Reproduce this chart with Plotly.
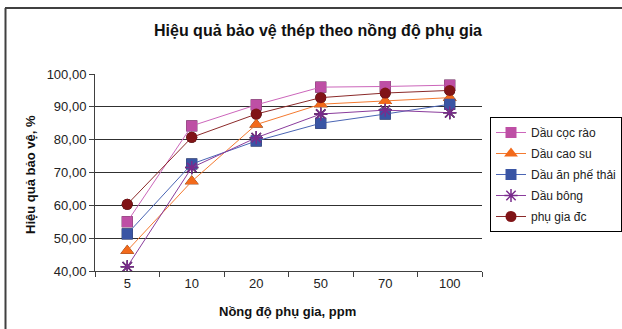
import plotly.graph_objects as go

categories = ["5", "10", "20", "50", "70", "100"]
series_names = ["Dầu cọc rào", "Dầu cao su", "Dầu ăn phế thải", "Dầu bông", "phụ gia đc"]
coc_rao = [55.0, 84.2, 90.6, 96.0, 96.2, 96.6]
cao_su = [46.2, 67.3, 84.6, 90.8, 91.8, 92.8]
an_phe_thai = [51.3, 72.6, 79.6, 85.0, 87.8, 90.8]
bong = [41.3, 71.5, 80.6, 87.8, 89.0, 88.2]
phu_gia_dc = [60.3, 80.7, 87.8, 92.8, 94.2, 95.0]
values = [coc_rao, cao_su, an_phe_thai, bong, phu_gia_dc]

marker_colors = ["#BE4FA5", "#F26A1B", "#3A55A4", "#7A2B8C", "#801417"]
line_colors = ["#CC66BB", "#F47A30", "#4A65B4", "#8A3C9C", "#8B2A2A"]
symbols = ["square", "triangle-up", "square", "asterisk-open", "circle"]
sizes = [11, 12, 11, 11, 11]

W, H = 622, 329
L, R, T, B = 93, 140, 72, 58
PW = W - L - R
PH = H - T - B
dx, dy = 2, 2

def px(x):
    return (x - L) / PW

def py(y):
    return (H - B - y) / PH

fig = go.Figure()

# shadows on base axes (x/y), offset down-right
for vals, sym, sz in zip(values, symbols, sizes):
    fig.add_trace(go.Scatter(
        x=categories, y=vals, mode="markers", xaxis="x", yaxis="y",
        marker=dict(symbol=sym, size=sz, color="black",
                    line=dict(color="black", width=1.5 if "asterisk" in sym else 0)),
        showlegend=False, hoverinfo="skip"))

# main series on overlay axes (x2/y2) which carry the visible grid/ticks
for i, (name, vals, mc, lc, sym, sz) in enumerate(zip(series_names, values, marker_colors, line_colors, symbols, sizes)):
    fig.add_trace(go.Scatter(
        x=categories, y=vals, mode="lines+markers", name=name, xaxis="x2", yaxis="y2",
        legendgroup=f"g{i}",
        line=dict(color=lc, width=1),
        marker=dict(symbol=sym, size=sz, color=mc,
                    line=dict(color=mc, width=1.5 if "asterisk" in sym else 0))))

main_x_dom = [0, (PW - dx) / PW]
main_y_dom = [dy / PH, 1]
sh_x_dom = [dx / PW, 1]
sh_y_dom = [0, (PH - dy) / PH]

xcommon = dict(type="category", categoryorder="array", categoryarray=categories, range=[-0.5, 5.5])
ycommon = dict(range=[40, 100])

fig.update_layout(
    width=W, height=H,
    margin=dict(l=L, r=R, t=T, b=B, pad=0, autoexpand=False),
    paper_bgcolor="white", plot_bgcolor="white",
    font=dict(family="Liberation Sans, Arial, sans-serif", size=13, color="#222"),
    separators=",.",
    xaxis=dict(**xcommon, domain=sh_x_dom, anchor="y", showgrid=False, showline=False,
               showticklabels=False, ticks="", zeroline=False, automargin=False),
    yaxis=dict(**ycommon, domain=sh_y_dom, anchor="x", showgrid=False, showline=False,
               showticklabels=False, ticks="", zeroline=False, automargin=False),
    xaxis2=dict(**xcommon, domain=main_x_dom, anchor="y2", overlaying="x", showgrid=False,
                showline=True, linecolor="#404040", linewidth=1,
                ticks="outside", tickson="boundaries", ticklen=5, tickcolor="#404040",
                tickfont=dict(size=13, color="#222"), zeroline=False, automargin=False),
    yaxis2=dict(**ycommon, domain=main_y_dom, anchor="x2", overlaying="y", showgrid=True,
                gridcolor="#303030", gridwidth=1, dtick=10, tick0=40, tickformat=".2f",
                showline=True, linecolor="#404040", linewidth=1,
                ticks="outside", ticklen=5, tickcolor="#404040",
                tickfont=dict(size=13, color="#222"), zeroline=False, automargin=False),
    showlegend=True,
    legend=dict(x=px(490), y=py(117), xanchor="left", yanchor="top",
                bordercolor="black", borderwidth=1, bgcolor="white",
                font=dict(size=12, color="#222"), tracegroupgap=2,
                traceorder="grouped", itemwidth=30),
    title=dict(text="<b>Hiệu quả bảo vệ thép theo nồng độ phụ gia</b>",
               x=px(318), xref="paper", xanchor="center",
               y=1 - 30 / H, yanchor="middle", font=dict(size=16, color="#111")),
    annotations=[
        dict(text="<b>Nồng độ phụ gia, ppm</b>", xref="paper", yref="paper",
             x=px(287), y=py(311), xanchor="center", yanchor="middle",
             showarrow=False, font=dict(size=13, color="#111")),
        dict(text="<b>Hiệu quả bảo vệ, %</b>", xref="paper", yref="paper",
             x=px(30), y=py(175), xanchor="center", yanchor="middle", textangle=-90,
             showarrow=False, font=dict(size=13, color="#111")),
    ],
    shapes=[
        dict(type="line", xref="paper", yref="paper", x0=px(5.5), x1=px(5.5),
             y0=py(8), y1=py(335), line=dict(color="#404040", width=2)),
        dict(type="line", xref="paper", yref="paper", x0=px(5), x1=px(630),
             y0=py(8), y1=py(8), line=dict(color="#404040", width=2)),
    ],
)

fig.write_html("out.html")
